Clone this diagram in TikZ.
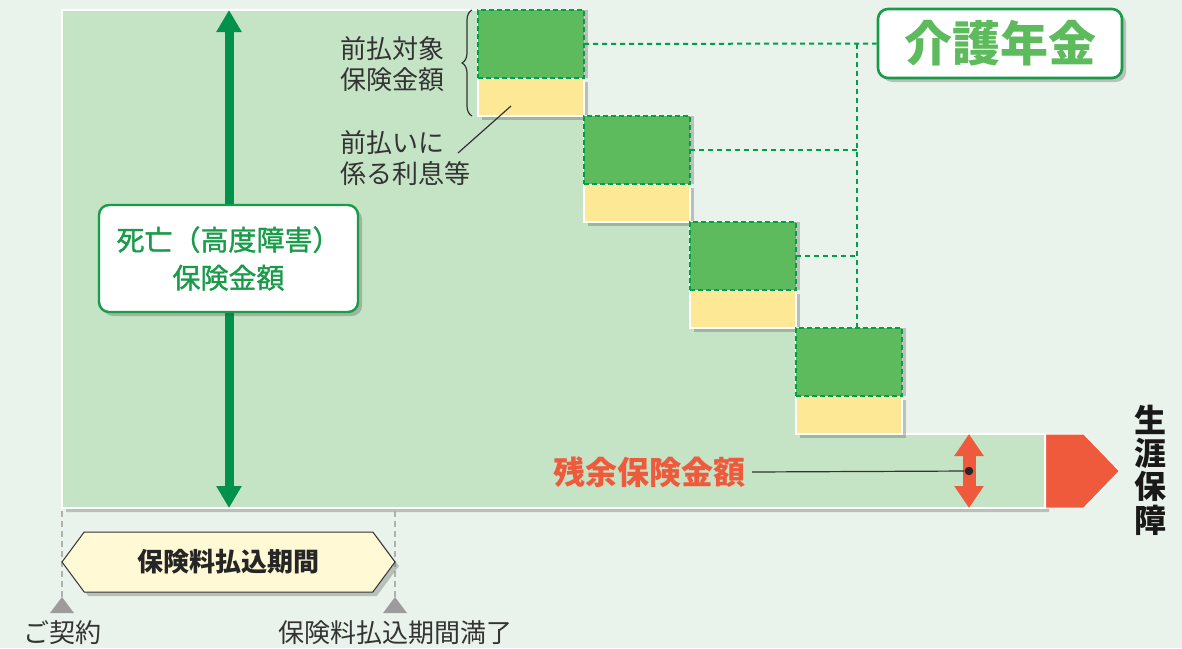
\documentclass[tikz,border=0pt]{standalone}
\usepackage{fontspec}
\setmainfont{Noto Sans CJK JP}
\newfontfamily\mediumjp{Noto Sans CJK JP}[FakeBold=1.3]
\usetikzlibrary{arrows.meta,shapes.symbols,shadows,backgrounds,decorations.pathreplacing,positioning}
\definecolor{bgmint}{HTML}{E9F3EB}
\definecolor{areagreen}{HTML}{C5E3C5}
\definecolor{blockgreen}{HTML}{5DBA5D}
\definecolor{dashgreen}{HTML}{00A048}
\definecolor{payyellow}{HTML}{FDE995}
\definecolor{arrowgreen}{HTML}{00914B}
\definecolor{boxgreen}{HTML}{1A9B4A}
\definecolor{restred}{HTML}{EF5A3C}
\definecolor{periodcream}{HTML}{FFF9D6}
\definecolor{markgray}{HTML}{9C9C9C}
\tikzset{
softshadow/.style={
  drop shadow={shadow xshift=2pt, shadow yshift=-2pt, opacity=0.3, fill=black!70}},
lump/.style={
  rectangle,
  fill=blockgreen,
  draw=dashgreen,
  line width=1.2pt,
  dash pattern=on 2.4pt off 1.6pt,
  preaction={draw=white, solid, line width=1.2pt},
  drop shadow={shadow xshift=2pt, shadow yshift=0pt, opacity=0.3, fill=black!70},
  minimum width=53pt,
  minimum height=34pt,
  outer sep=0pt,
  inner sep=0pt},
interest/.style={
  rectangle,
  fill=payyellow,
  draw=white,
  line width=0.6pt,
  softshadow,
  minimum width=53pt,
  minimum height=19pt,
  outer sep=0pt,
  inner sep=0pt},
dotline/.style={draw=dashgreen, line width=1pt, dash pattern=on 2.5pt off 2pt},
pensionbox/.style={
  rectangle,
  rounded corners=5pt,
  draw=boxgreen,
  line width=1.3pt,
  fill=white,
  softshadow,
  minimum width=122pt,
  minimum height=34.5pt,
  text=blockgreen,
  font=\bfseries\fontsize{24}{24}\selectfont},
deathbox/.style={
  rectangle,
  rounded corners=5pt,
  draw=boxgreen,
  line width=1.2pt,
  fill=white,
  softshadow,
  minimum width=129.5pt,
  minimum height=53.5pt,
  text=boxgreen,
  align=center,
  font=\mediumjp\fontsize{14}{19}\selectfont},
period/.style={
  signal,
  signal to=east and west,
  signal pointer angle=107,
  fill=periodcream,
  draw=black!80,
  line width=0.5pt,
  softshadow,
  minimum width=166.5pt,
  minimum height=30pt,
  inner sep=0pt,
  text=black!85,
  font=\bfseries\fontsize{13}{13}\selectfont},
lifeend/.style={
  signal,
  signal to=east,
  signal pointer angle=92,
  fill=restred,
  draw=white,
  line width=0.5pt,
  minimum width=37pt,
  minimum height=37pt,
  inner sep=0pt},
note/.style={text=black!80, font=\fontsize{13}{15.5}\selectfont, align=left, inner sep=0pt},
line/.style={draw=black!80, line width=0.6pt},
lifeline/.style={draw=arrowgreen, line width=4.5pt,
  {Triangle[width=12pt,length=11pt]}-{Triangle[width=12pt,length=11pt]}},
restarrow/.style={draw=restred, line width=6.5pt,
  {Triangle[width=14pt,length=11pt]}-{Triangle[width=14pt,length=11pt]}},
periodline/.style={draw=markgray!80, line width=1pt, dash pattern=on 3pt off 2pt}
}
\begin{document}
\begin{tikzpicture}[x=0.5pt, y=-0.5pt]
    \useasboundingbox (0,0) rectangle (1182,648);
    % prepaid blocks
    \node [interest] (int1) at (531,97) {};
    \node [lump, above=0pt of int1] (pay1) {};
    \node [interest, below right=34pt and 0pt of int1] (int2) {};
    \node [lump, above=0pt of int2] (pay2) {};
    \node [interest, below right=34pt and 0pt of int2] (int3) {};
    \node [lump, above=0pt of int3] (pay3) {};
    \node [interest, below right=34pt and 0pt of int3] (int4) {};
    \node [lump, above=0pt of int4] (pay4) {};
    \node [lifeend, anchor=west] (lifeend) at (1045,471) {};
    \begin{scope}[on background layer]
      \fill [bgmint] (0,0) rectangle (1182,648);
      \path [fill=areagreen, draw=white, line width=0.6pt, softshadow]
        (62,10) -- (pay1.north west) -- (int1.south west) -- (pay2.north west)
        -- (int2.south west) -- (pay3.north west) -- (int3.south west)
        -- (pay4.north west) -- (int4.south west) -- (lifeend.west |- int4.south)
        -- (1045,508) -- (62,508) -- cycle;
    \end{scope}
    % pension
    \node [pensionbox] (kaigo) at (1000,43.5) {介護年金};
    \coordinate (drop) at (857,44);
    \path [dotline] (pay1.east) -- (kaigo.west);
    \path [dotline] (drop) -- (drop |- pay4.north);
    \path [dotline] (pay2.east) -- (drop |- pay2.east);
    \path [dotline] (pay3.east) -- (drop |- pay3.east);
    % death benefit
    \coordinate (deathtop) at (229,10);
    \coordinate (deathbottom) at (229,508);
    \path [lifeline] (deathtop) -- (deathbottom);
    \node [deathbox] (death) at (228.5,258.5) {死亡（高度障害）\\保険金額};
    % labels
    \node [note, anchor=west] (prepaylabel) at (340,64) {前払対象\\保険金額};
    \node [note, anchor=west] (interestlabel) at (340,158) {前払いに\\係る利息等};
    \path [line, decorate, decoration={brace, amplitude=5pt}]
      ([xshift=-3pt]int1.south west) -- ([xshift=-3pt]pay1.north west);
    \coordinate (interestfoot) at (458,153);
    \coordinate (interestpt) at (511,106);
    \path [line] (interestfoot) -- (interestpt);
    % remaining
    \coordinate (resttop) at (969,434);
    \coordinate (restbottom) at (969,508);
    \path [restarrow] (resttop) -- (restbottom);
    \node [circle, fill=black!85, inner sep=1.5pt] (restdot) at (969,471) {};
    \node [text=restred, font=\bfseries\fontsize{16}{16}\selectfont] (restlabel) at (649,472) {残余保険金額};
    \path [line] (restlabel.east) -- (restdot);
    \node [align=center, text=black!90, font=\bfseries\fontsize{16}{16.7}\selectfont] (lifelong) at (1150,470) {生\\涯\\保\\障};
    % premium period
    \coordinate (signing) at (62,597);
    \coordinate (paidup) at (395,597);
    \path [periodline] (signing |- 0,511) -- (signing);
    \path [periodline] (paidup |- 0,511) -- (paidup);
    \node [period] (payperiod) at (228.5,562) {保険料払込期間};
    \fill [markgray] (signing) -- ++(12,16) -- ++(-24,0) -- cycle;
    \fill [markgray] (paidup) -- ++(12,16) -- ++(-24,0) -- cycle;
    \node [note] (signtext) at (62,633) {ご契約};
    \node [note] (paiduptext) at (395,633) {保険料払込期間満了};
\end{tikzpicture}
\end{document}
